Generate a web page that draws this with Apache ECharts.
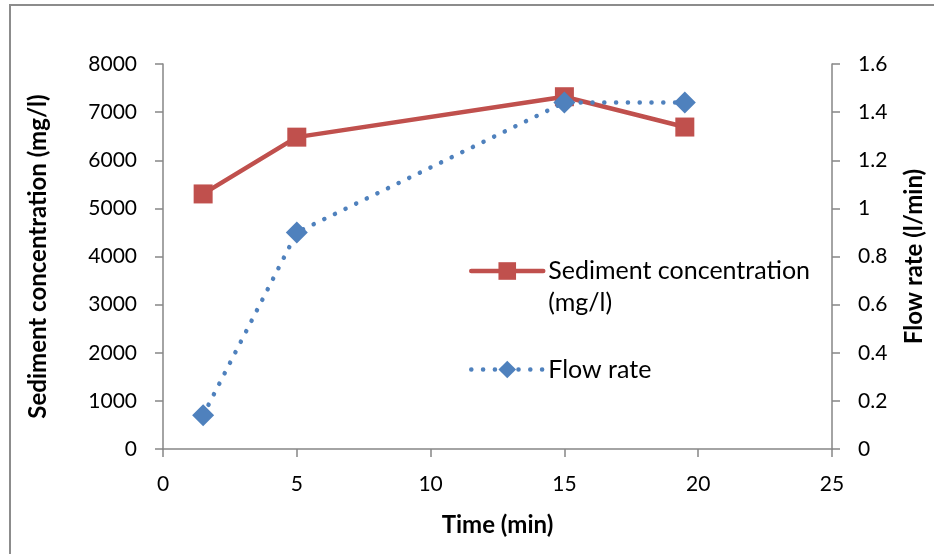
<!DOCTYPE html>
<html>
<head>
<meta charset="utf-8">
<style>
  html, body { margin: 0; padding: 0; background: #fff; }
  #chart { width: 934px; height: 554px; }
</style>
<script src="https://cdn.jsdelivr.net/npm/echarts@6/dist/echarts.min.js"></script>
</head>
<body>
<div id="chart"></div>
<script>
// Sampling times (min)
const times = [1.5, 5, 15, 19.5];
// Sediment concentration (mg/l), left axis
const sediment = [5300, 6480, 7320, 6690];
// Flow rate (l/min), right axis
const flowRate = [0.14, 0.90, 1.44, 1.44];

const SED_NAME = 'Sediment concentration (mg/l)';
const FLOW_NAME = 'Flow rate';

const FONT = 'Lato, "Open Sans", sans-serif';
const AXIS_GREY = '#868686';
const RED = '#C0504D';
const BLUE = '#4F81BD';
const DOTS = [0.1, 11.7];

const pairs = (xs, ys) => xs.map((x, i) => [x, ys[i]]);
const plain = v => String(v);

const axisCommon = {
  axisLine: { show: true, onZero: false, lineStyle: { color: AXIS_GREY, width: 1.5 } },
  axisTick: { show: true, inside: false, length: 8, lineStyle: { color: AXIS_GREY, width: 1.5 } },
  splitLine: { show: false },
  axisLabel: { color: '#000', fontFamily: FONT, fontSize: 21, formatter: plain },
  nameTextStyle: { color: '#000', fontFamily: FONT, fontSize: 24, fontWeight: 'bold' },
  nameLocation: 'middle'
};

const chart = echarts.init(document.getElementById('chart'), null, { renderer: 'canvas' });

chart.setOption({
  animation: false,
  backgroundColor: '#fff',
  graphic: [{
    type: 'rect',
    shape: { x: 10, y: 5, width: 1000, height: 700 },
    style: { fill: 'none', stroke: '#8c8c8c', lineWidth: 2 },
    silent: true, z: -1
  }],
  grid: { left: 163, right: 101, top: 64, bottom: 105, containLabel: false },
  legend: [{
    data: [SED_NAME],
    left: 464, top: 218,
    itemWidth: 72, itemHeight: 22,
    // leading blank line keeps the first text line level with the icon
    formatter: () => '\nSediment concentration\n(mg/l)',
    textStyle: { color: '#000', fontFamily: FONT, fontSize: 25, lineHeight: 32 },
    lineStyle: { width: 4.5, cap: 'round' },
    selectedMode: false
  }, {
    data: [FLOW_NAME],
    left: 464, top: 352,
    itemWidth: 72, itemHeight: 22,
    textStyle: { color: '#000', fontFamily: FONT, fontSize: 25 },
    lineStyle: { width: 4.5, type: DOTS, cap: 'round' },
    selectedMode: false
  }],
  xAxis: Object.assign({}, axisCommon, {
    type: 'value', min: 0, max: 25, interval: 5,
    name: 'Time (min)', nameGap: 64,
    axisLabel: Object.assign({}, axisCommon.axisLabel, { margin: 25 })
  }),
  yAxis: [
    Object.assign({}, axisCommon, {
      type: 'value', position: 'left', min: 0, max: 8000, interval: 1000,
      name: 'Sediment concentration (mg/l)', nameGap: 113, nameRotate: 90,
      axisLabel: Object.assign({}, axisCommon.axisLabel, { margin: 26 })
    }),
    Object.assign({}, axisCommon, {
      type: 'value', position: 'right', min: 0, max: 1.6, interval: 0.2,
      name: 'Flow rate (l/min)', nameGap: 70, nameRotate: 90,
      axisLabel: Object.assign({}, axisCommon.axisLabel, { margin: 26 })
    })
  ],
  series: [{
    name: SED_NAME,
    type: 'line',
    yAxisIndex: 0,
    data: pairs(times, sediment),
    symbol: 'rect', symbolSize: 19,
    itemStyle: { color: RED },
    lineStyle: { color: RED, width: 4.5, cap: 'round' },
    z: 2
  }, {
    name: FLOW_NAME,
    type: 'line',
    yAxisIndex: 1,
    data: pairs(times, flowRate),
    symbol: 'diamond', symbolSize: 22,
    itemStyle: { color: BLUE },
    lineStyle: { color: BLUE, width: 4.5, type: DOTS, cap: 'round' },
    z: 3
  }]
});
</script>
</body>
</html>
